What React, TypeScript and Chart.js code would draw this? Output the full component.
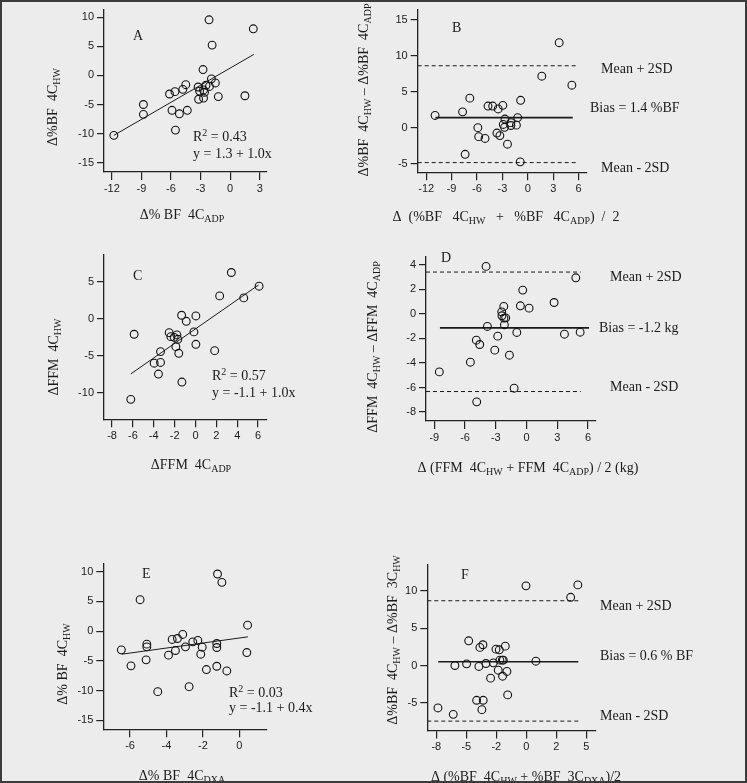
import React, { useEffect, useRef } from 'react';
import { Chart, registerables } from 'chart.js';

Chart.register(...registerables);

// ---------------- DATA ----------------
// Panel A: Δ%BF 4C_ADP vs Δ%BF 4C_HW
const A_X = [-11.8, -8.8, -8.8, -6.15, -5.6, -4.8, -4.5, -5.9, -5.15, -4.35, -5.55, -3.25, -3.1, -3.2, -2.75, -2.7, -2.7, -2.45, -2.1, -2.14, -1.83, -1.9, -1.5, -1.2, 1.5, 2.35, -2.6];
const A_Y = [-10.3, -5.0, -6.7, -3.2, -2.8, -2.4, -1.6, -6.0, -6.6, -6.0, -9.4, -2.0, -2.7, -4.1, 1.0, -2.5, -3.9, -1.7, -1.9, 9.55, 5.2, -0.6, -1.3, -3.65, -3.5, 8.0, -2.9];
const A_FIT_X = [-11.8, 2.4];
const A_FIT_Y = [-10.3, 3.6];
const A_X_TICKS = [-12, -9, -6, -3, 0, 3];
const A_Y_TICKS = [-15, -10, -5, 0, 5, 10];

// Panel B: Bland-Altman %BF 4C_HW vs 4C_ADP
const B_X = [-10.95, -7.7, -6.85, -7.4, -5.9, -5.8, -5.05, -4.7, -4.15, -3.5, -2.95, -3.65, -3.3, -2.7, -2.9, -2.75, -2.4, -2.0, -2.0, -1.35, -1.2, -0.85, -0.9, 1.65, 3.7, 5.2];
const B_Y = [1.7, 2.2, 4.1, -3.7, 0.0, -1.25, -1.5, 3.0, 3.0, 2.6, 3.1, -0.75, -1.1, 1.2, 0.45, 0.05, -2.3, 0.7, 0.3, 0.35, 1.4, 3.8, -4.75, 7.15, 11.8, 5.9];
const B_BIAS = 1.4;
const B_UPPER = 8.6;
const B_LOWER = -4.85;
const B_BIAS_X = [-10.9, 5.3];
const B_LIMIT_X = [-13, 6.0];
const B_X_TICKS = [-12, -9, -6, -3, 0, 3, 6];
const B_Y_TICKS = [-5, 0, 5, 10, 15];

// Panel C: ΔFFM 4C_ADP vs ΔFFM 4C_HW
const C_X = [-6.2, -5.88, -3.96, -3.35, -3.35, -3.55, -2.52, -2.36, -2.04, -1.78, -1.69, -1.88, -1.6, -1.33, -0.88, -1.3, -0.15, 0.04, 0.04, 1.84, 2.32, 3.44, 4.63, 6.1];
const C_Y = [-10.9, -2.08, -6.0, -5.9, -4.43, -7.47, -1.86, -2.4, -2.5, -2.17, -2.76, -3.76, -4.66, 0.5, -0.32, -8.55, -1.76, 0.4, -3.44, -4.3, 3.12, 6.29, 2.85, 4.43];
const C_FIT_X = [-6.2, 6.05];
const C_FIT_Y = [-7.45, 4.6];
const C_X_TICKS = [-8, -6, -4, -2, 0, 2, 4, 6];
const C_Y_TICKS = [-10, -5, 0, 5];

// Panel D: Bland-Altman FFM
const D_X = [-8.51, -5.48, -4.9, -4.57, -4.86, -3.95, -3.82, -2.81, -3.1, -2.42, -2.22, -2.4, -2.2, -2.03, -2.16, -1.67, -0.95, -1.21, -0.6, -0.37, 0.25, 2.69, 3.7, 4.81, 5.23];
const D_Y = [-4.73, -3.94, -2.15, -2.5, -7.17, 3.86, -1.03, -1.82, -2.96, 0.16, 0.6, -0.16, -0.35, -0.33, -0.9, -3.37, -1.52, -6.06, 0.65, 1.93, 0.46, 0.92, -1.66, 2.93, -1.5];
const D_BIAS = -1.15;
const D_UPPER = 3.4;
const D_LOWER = -6.33;
const D_BIAS_X = [-8.45, 6.1];
const D_LIMIT_X = [-9.81, 5.3];
const D_X_TICKS = [-9, -6, -3, 0, 3, 6];
const D_Y_TICKS = [-8, -6, -4, -2, 0, 2, 4];

// Panel E: Δ%BF 4C_DXA vs Δ%BF 4C_HW
const E_X = [-6.48, -5.95, -5.45, -5.08, -5.08, -5.12, -4.48, -3.89, -3.69, -3.4, -3.51, -3.11, -2.96, -2.76, -2.56, -2.28, -2.04, -2.12, -1.81, -1.24, -1.24, -1.24, -1.2, -0.96, -0.69, 0.45, 0.41];
const E_Y = [-3.15, -5.84, 5.28, -2.19, -2.64, -4.83, -10.17, -4.04, -1.4, -1.24, -3.26, -0.56, -2.64, -9.33, -1.8, -1.57, -2.7, -3.88, -6.46, -2.08, -2.75, -5.9, 9.6, 8.2, -6.69, 1.0, -3.6];
const E_FIT_X = [-6.46, 0.47];
const E_FIT_Y = [-3.88, -0.96];
const E_X_TICKS = [-6, -4, -2, 0];
const E_Y_TICKS = [-15, -10, -5, 0, 5, 10];

// Panel F: Bland-Altman %BF 4C_HW vs 3C_DXA (x in evenly spaced tick units)
const F_X = [-5.89, -4.87, -4.76, -3.98, -3.84, -3.31, -2.87, -2.96, -3.16, -3.09, -2.89, -2.69, -2.38, -2.2, -2.02, -1.8, -1.87, -1.76, -1.6, -1.53, -1.58, -1.4, -1.29, -1.24, -0.02, 0.64, 2.96, 3.44];
const F_Y = [-5.7, -6.56, 0.0, 0.22, 3.32, -4.67, -4.67, -5.93, -0.13, 2.43, 2.79, 0.27, -1.7, 0.36, 2.2, 2.11, -0.63, 0.72, 0.72, 0.72, -1.44, 2.6, -0.8, -3.95, 10.7, 0.58, 9.16, 10.83];
const F_BIAS = 0.5;
const F_UPPER = 8.7;
const F_LOWER = -7.47;
const F_BIAS_X = [-5.87, 3.47];
const F_LIMIT_X = [-6.6, 3.58];
const F_X_TICKS = [-6, -4, -2, 0, 2, 4];
const F_X_TICK_LABELS = ['-8', '-5', '-2', '0', '2', '5'];
const F_Y_TICKS = [-5, 0, 5, 10];

// ---------------- RENDERING ----------------
const W = 747;
const H = 783;
const YW = 40;
const XH = 40;
const INK = '#1b1b1b';
const SERIF = '"Liberation Serif", "Times New Roman", serif';
const SANS = '"Liberation Sans", Arial, sans-serif';

type Seg = [string, 'n' | 'b' | 'p'];
type TextItem = { segs: Seg[]; x: number; y: number; align: 'left' | 'center'; rot?: boolean; size?: number };
type Line = { x: number[]; y: number[]; dash?: boolean; width?: number };
type Panel = {
  area: [number, number, number, number];
  xr: [number, number];
  yr: [number, number];
  xTicks: number[];
  yTicks: number[];
  xLabels?: string[];
  xs: number[];
  ys: number[];
  lines: Line[];
  texts: TextItem[];
};

const t = (s: string): Seg[] => [[s, 'n']];
const r2 = (v: string): Seg[] => [['R', 'n'], ['2', 'p'], [' = ' + v, 'n']];

function hline(y: number, xr: number[], dash: boolean, width: number): Line {
  return { x: xr, y: [y, y], dash, width };
}

const PANELS: Panel[] = [
  {
    area: [104, 6, 267, 172], xr: [-12.8, 3.74], yr: [-16.6, 11.3],
    xTicks: A_X_TICKS, yTicks: A_Y_TICKS, xs: A_X, ys: A_Y,
    lines: [{ x: A_FIT_X, y: A_FIT_Y, width: 1 }],
    texts: [
      { segs: t('A'), x: 133, y: 35, align: 'left' },
      { segs: r2('0.43'), x: 193, y: 136, align: 'left' },
      { segs: t('y = 1.3 + 1.0x'), x: 193, y: 153, align: 'left' },
      { segs: [['Δ%BF  4C', 'n'], ['HW', 'b']], x: 52, y: 107, align: 'center', rot: true },
      { segs: [['Δ% BF  4C', 'n'], ['ADP', 'b']], x: 182, y: 214, align: 'center' },
    ],
  },
  {
    area: [417.7, 5, 586.7, 172.3], xr: [-13, 6.95], yr: [-6.2, 16.4],
    xTicks: B_X_TICKS, yTicks: B_Y_TICKS, xs: B_X, ys: B_Y,
    lines: [hline(B_UPPER, B_LIMIT_X, true, 1), hline(B_LOWER, B_LIMIT_X, true, 1), hline(B_BIAS, B_BIAS_X, false, 1.6)],
    texts: [
      { segs: t('B'), x: 452, y: 27, align: 'left' },
      { segs: t('Mean + 2SD'), x: 601, y: 68, align: 'left' },
      { segs: t('Bias = 1.4 %BF'), x: 590, y: 107, align: 'left' },
      { segs: t('Mean - 2SD'), x: 601, y: 167, align: 'left' },
      { segs: [['Δ%BF  4C', 'n'], ['HW', 'b'], [' – Δ%BF  4C', 'n'], ['ADP', 'b']], x: 363, y: 90, align: 'center', rot: true },
      { segs: [['Δ  (%BF   4C', 'n'], ['HW', 'b'], ['   +   %BF   4C', 'n'], ['ADP', 'b'], [')  /  2', 'n']], x: 506, y: 216, align: 'center' },
    ],
  },
  {
    area: [104, 255, 266.7, 419.3], xr: [-8.77, 6.83], yr: [-13.6, 8.66],
    xTicks: C_X_TICKS, yTicks: C_Y_TICKS, xs: C_X, ys: C_Y,
    lines: [{ x: C_FIT_X, y: C_FIT_Y, width: 1 }],
    texts: [
      { segs: t('C'), x: 133, y: 275, align: 'left' },
      { segs: r2('0.57'), x: 212, y: 375, align: 'left' },
      { segs: t('y = -1.1 + 1.0x'), x: 212, y: 392, align: 'left' },
      { segs: [['ΔFFM  4C', 'n'], ['HW', 'b']], x: 53, y: 357, align: 'center', rot: true },
      { segs: [['ΔFFM  4C', 'n'], ['ADP', 'b']], x: 191, y: 464, align: 'center' },
    ],
  },
  {
    area: [426, 256.7, 595.3, 421], xr: [-9.81, 6.71], yr: [-8.73, 4.65],
    xTicks: D_X_TICKS, yTicks: D_Y_TICKS, xs: D_X, ys: D_Y,
    lines: [hline(D_UPPER, D_LIMIT_X, true, 1), hline(D_LOWER, D_LIMIT_X, true, 1), hline(D_BIAS, D_BIAS_X, false, 1.6)],
    texts: [
      { segs: t('D'), x: 441, y: 257, align: 'left' },
      { segs: t('Mean + 2SD'), x: 610, y: 276, align: 'left' },
      { segs: t('Bias = -1.2 kg'), x: 599, y: 327, align: 'left' },
      { segs: t('Mean - 2SD'), x: 610, y: 386, align: 'left' },
      { segs: [['ΔFFM  4C', 'n'], ['HW', 'b'], [' – ΔFFM  4C', 'n'], ['ADP', 'b']], x: 372, y: 347, align: 'center', rot: true },
      { segs: [['Δ (FFM  4C', 'n'], ['HW', 'b'], [' + FFM  4C', 'n'], ['ADP', 'b'], [') / 2 (kg)', 'n']], x: 528, y: 467, align: 'center' },
    ],
  },
  {
    area: [103.3, 563.3, 266.7, 729.3], xr: [-7.47, 1.5], yr: [-16.5, 11.4],
    xTicks: E_X_TICKS, yTicks: E_Y_TICKS, xs: E_X, ys: E_Y,
    lines: [{ x: E_FIT_X, y: E_FIT_Y, width: 1 }],
    texts: [
      { segs: t('E'), x: 142, y: 573, align: 'left' },
      { segs: r2('0.03'), x: 229, y: 692, align: 'left' },
      { segs: t('y = -1.1 + 0.4x'), x: 229, y: 707, align: 'left' },
      { segs: [['Δ% BF  4C', 'n'], ['HW', 'b']], x: 62, y: 664, align: 'center', rot: true },
      { segs: [['Δ% BF  4C', 'n'], ['DXA', 'b']], x: 182, y: 775, align: 'center' },
    ],
  },
  {
    area: [427.3, 565, 595.7, 730.5], xr: [-6.6, 4.63], yr: [-8.73, 13.5],
    xTicks: F_X_TICKS, yTicks: F_Y_TICKS, xLabels: F_X_TICK_LABELS, xs: F_X, ys: F_Y,
    lines: [hline(F_UPPER, F_LIMIT_X, true, 1), hline(F_LOWER, F_LIMIT_X, true, 1), hline(F_BIAS, F_BIAS_X, false, 1.6)],
    texts: [
      { segs: t('F'), x: 461, y: 574, align: 'left' },
      { segs: t('Mean + 2SD'), x: 600, y: 605, align: 'left' },
      { segs: t('Bias = 0.6 % BF'), x: 600, y: 655, align: 'left' },
      { segs: t('Mean - 2SD'), x: 600, y: 715, align: 'left' },
      { segs: [['Δ%BF  4C', 'n'], ['HW', 'b'], [' – Δ%BF  3C', 'n'], ['HW', 'b']], x: 392, y: 640, align: 'center', rot: true },
      { segs: [['Δ (%BF  4C', 'n'], ['HW', 'b'], [' + %BF  3C', 'n'], ['DXA', 'b'], [')/2', 'n']], x: 526, y: 776, align: 'center' },
    ],
  },
];

function drawRich(ctx: CanvasRenderingContext2D, it: TextItem) {
  const size = it.size ?? 14;
  const small = Math.round(size * 0.72);
  const fN = `${size}px ${SERIF}`;
  const fS = `${small}px ${SERIF}`;
  ctx.save();
  ctx.fillStyle = INK;
  ctx.textBaseline = 'alphabetic';
  ctx.textAlign = 'left';
  const widths = it.segs.map(([s, k]) => {
    ctx.font = k === 'n' ? fN : fS;
    return ctx.measureText(s).width;
  });
  const total = widths.reduce((a, b) => a + b, 0);
  ctx.translate(it.x, it.y);
  if (it.rot) ctx.rotate(-Math.PI / 2);
  let x = it.align === 'center' ? -total / 2 : 0;
  const base = size * 0.33;
  it.segs.forEach(([s, k], i) => {
    ctx.font = k === 'n' ? fN : fS;
    const dy = k === 'b' ? size * 0.24 : k === 'p' ? -size * 0.36 : 0;
    ctx.fillText(s, x, base + dy);
    x += widths[i];
  });
  ctx.restore();
}

function makeChart(canvas: HTMLCanvasElement, p: Panel) {
  const [l, tp, r, b] = p.area;
  const datasets: any[] = [
    {
      data: p.xs.map((x, i) => ({ x, y: p.ys[i] })),
      showLine: false,
      pointStyle: 'circle',
      pointRadius: 3.9,
      pointBorderWidth: 1.1,
      pointBorderColor: '#111',
      pointBackgroundColor: 'rgba(0,0,0,0)',
      borderColor: '#111',
      backgroundColor: 'rgba(0,0,0,0)',
    },
    ...p.lines.map((ln) => ({
      data: ln.x.map((x, i) => ({ x, y: ln.y[i] })),
      showLine: true,
      pointRadius: 0,
      borderColor: '#1a1a1a',
      borderWidth: ln.width ?? 1,
      borderDash: ln.dash ? [4, 3] : [],
      fill: false,
    })),
  ];
  const textPlugin = {
    id: 'richText' + Math.random().toString(36).slice(2),
    afterDraw(chart: any) {
      p.texts.forEach((it) => drawRich(chart.ctx, it));
    },
  };
  const axisCommon = {
    type: 'linear' as const,
    grid: { display: true, drawOnChartArea: false, drawTicks: true, color: '#222', lineWidth: 1.2 },
    border: { display: true, color: '#222', width: 1.3 },
    title: { display: false },
  };
  return new Chart(canvas, {
    type: 'scatter',
    data: { datasets },
    options: {
      animation: false,
      responsive: false,
      maintainAspectRatio: false,
      devicePixelRatio: 1,
      events: [],
      layout: { padding: { left: l - YW, top: tp, right: W - r, bottom: H - b - XH } },
      plugins: { legend: { display: false }, tooltip: { enabled: false } },
      scales: {
        x: {
          ...axisCommon,
          position: 'bottom',
          min: p.xr[0],
          max: p.xr[1],
          grid: { ...axisCommon.grid, tickLength: 8 },
          afterFit: (s: any) => { s.height = XH; },
          afterBuildTicks: (s: any) => { s.ticks = p.xTicks.map((v) => ({ value: v })); },
          ticks: {
            autoSkip: false,
            maxRotation: 0,
            padding: 2,
            color: INK,
            font: { family: SANS, size: 11 },
            callback: (v: any, i: number) => (p.xLabels ? p.xLabels[i] : String(v)),
          },
        },
        y: {
          ...axisCommon,
          position: 'left',
          min: p.yr[0],
          max: p.yr[1],
          grid: { ...axisCommon.grid, tickLength: 7 },
          afterFit: (s: any) => { s.width = YW; },
          afterBuildTicks: (s: any) => { s.ticks = p.yTicks.map((v) => ({ value: v })); },
          ticks: {
            autoSkip: false,
            padding: 3,
            color: INK,
            font: { family: SANS, size: 11 },
            callback: (v: any) => String(v),
          },
        },
      },
    } as any,
    plugins: [textPlugin],
  });
}

function PanelCanvas({ panel }: { panel: Panel }) {
  const ref = useRef<HTMLCanvasElement | null>(null);
  useEffect(() => {
    if (!ref.current) return;
    const chart = makeChart(ref.current, panel);
    return () => chart.destroy();
  }, [panel]);
  return (
    <canvas
      ref={ref}
      width={W}
      height={H}
      style={{ position: 'absolute', left: 0, top: 0, width: W, height: H }}
    />
  );
}

export default function App() {
  return (
    <div
      style={{
        position: 'absolute',
        left: 0,
        top: 0,
        width: W,
        height: H,
        boxSizing: 'border-box',
        border: '2px solid #3c3c3c',
        background: '#ececec',
        overflow: 'hidden',
      }}
    >
      <div style={{ position: 'absolute', left: -2, top: -2, width: W, height: H }}>
        {PANELS.map((p, i) => (
          <PanelCanvas key={i} panel={p} />
        ))}
      </div>
    </div>
  );
}
